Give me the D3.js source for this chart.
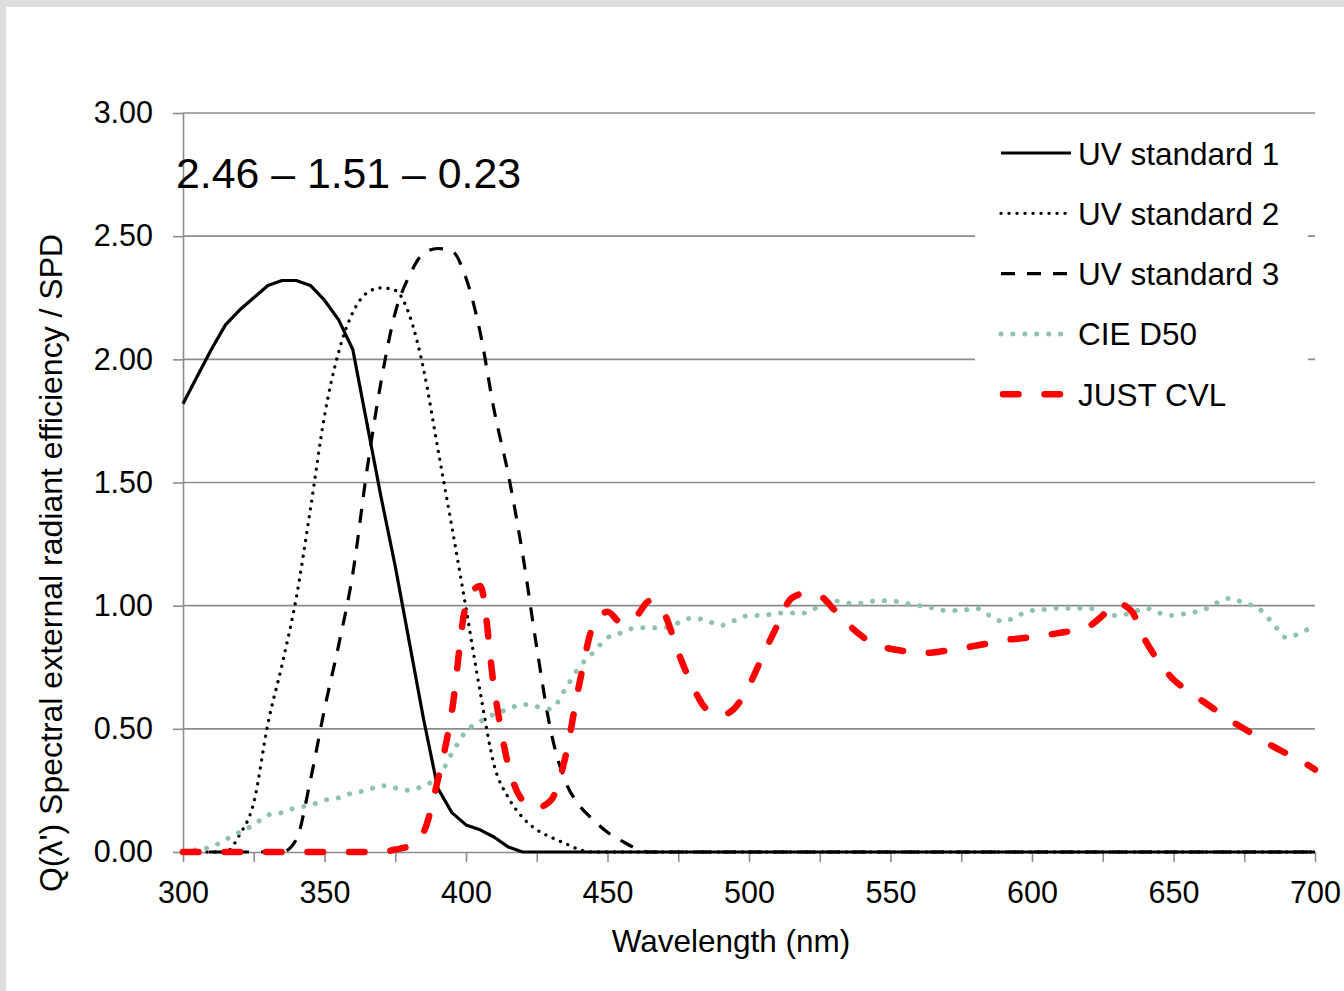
<!DOCTYPE html>
<html>
<head>
<meta charset="utf-8">
<script src="https://cdn.jsdelivr.net/npm/d3@7"></script>
<style>
  html, body { margin: 0; padding: 0; background: #fff; }
  svg { display: block; }
  text { font-family: "Liberation Sans", Arial, sans-serif; fill: #000; }
</style>
</head>
<body>
<div id="chart"></div>
<script>
// wavelength grid, nm (5 nm steps)
const wavelengths = d3.range(300, 701, 5);

const uvStandard1 = [
  1.82, 1.93, 2.04, 2.14, 2.20, 2.25, 2.30, 2.32, 2.32, 2.30,
  2.24, 2.16, 2.04, 1.74, 1.44, 1.16, 0.85, 0.54, 0.26, 0.16,
  0.11, 0.09, 0.06, 0.02, 0, 0, 0, 0, 0, 0,
  0, 0, 0, 0, 0, 0, 0, 0, 0, 0,
  0, 0, 0, 0, 0, 0, 0, 0, 0, 0,
  0, 0, 0, 0, 0, 0, 0, 0, 0, 0,
  0, 0, 0, 0, 0, 0, 0, 0, 0, 0,
  0, 0, 0, 0, 0, 0, 0, 0, 0, 0,
  0
];

const uvStandard2 = [
  0, 0, 0, 0, 0.07, 0.20, 0.52, 0.76, 1.03, 1.39,
  1.77, 2.03, 2.19, 2.27, 2.29, 2.28, 2.18, 1.96, 1.64, 1.32,
  0.99, 0.65, 0.35, 0.22, 0.14, 0.09, 0.06, 0.035, 0.01, 0,
  0, 0, 0, 0, 0, 0, 0, 0, 0, 0,
  0, 0, 0, 0, 0, 0, 0, 0, 0, 0,
  0, 0, 0, 0, 0, 0, 0, 0, 0, 0,
  0, 0, 0, 0, 0, 0, 0, 0, 0, 0,
  0, 0, 0, 0, 0, 0, 0, 0, 0, 0,
  0
];

const uvStandard3 = [
  0, 0, 0, 0, 0, 0, 0, 0, 0.05, 0.29,
  0.58, 0.84, 1.13, 1.55, 1.91, 2.19, 2.34, 2.43, 2.45, 2.44,
  2.33, 2.11, 1.79, 1.53, 1.21, 0.83, 0.49, 0.29, 0.19, 0.13,
  0.08, 0.045, 0.015, 0, 0, 0, 0, 0, 0, 0,
  0, 0, 0, 0, 0, 0, 0, 0, 0, 0,
  0, 0, 0, 0, 0, 0, 0, 0, 0, 0,
  0, 0, 0, 0, 0, 0, 0, 0, 0, 0,
  0, 0, 0, 0, 0, 0, 0, 0, 0, 0,
  0
];

const cieD50 = [
  0.00, 0.01, 0.02, 0.05, 0.08, 0.11, 0.15, 0.16, 0.18, 0.19,
  0.21, 0.22, 0.24, 0.25, 0.27, 0.26, 0.25, 0.27, 0.30, 0.40,
  0.49, 0.53, 0.56, 0.58, 0.60, 0.59, 0.58, 0.66, 0.75, 0.81,
  0.87, 0.89, 0.91, 0.91, 0.91, 0.93, 0.95, 0.94, 0.92, 0.94,
  0.96, 0.96, 0.97, 0.97, 0.97, 1.00, 1.02, 1.01, 1.01, 1.02,
  1.02, 1.01, 1.00, 0.99, 0.98, 0.98, 0.99, 0.96, 0.935, 0.96,
  0.98, 0.985, 0.99, 0.99, 0.99, 0.97, 0.96, 0.97, 0.99, 0.97,
  0.96, 0.97, 0.98, 1.01, 1.03, 1.01, 0.99, 0.93, 0.87, 0.89,
  0.92
];

const justCvl = [
  0, 0, 0, 0, 0, 0, 0, 0, 0, 0,
  0, 0, 0, 0, 0, 0.01, 0.025, 0.08, 0.29, 0.57,
  1.00, 1.08, 0.66, 0.35, 0.21, 0.18, 0.21, 0.38, 0.68, 0.92,
  0.975, 0.93, 0.955, 1.02, 0.97, 0.81, 0.675, 0.58, 0.555, 0.585,
  0.675, 0.80, 0.92, 1.03, 1.05, 1.04, 0.985, 0.925, 0.875, 0.84,
  0.825, 0.815, 0.807, 0.81, 0.818, 0.827, 0.837, 0.848, 0.86, 0.866,
  0.873, 0.88, 0.89, 0.90, 0.915, 0.96, 1.01, 0.98, 0.86, 0.77,
  0.70, 0.655, 0.615, 0.575, 0.535, 0.50, 0.465, 0.43, 0.40, 0.37,
  0.335
];

const seriesNames = ['UV standard 1', 'UV standard 2', 'UV standard 3', 'CIE D50', 'JUST CVL'];
const seriesValues = [uvStandard1, uvStandard2, uvStandard3, cieD50, justCvl];

const xTickValues = [300, 325, 350, 375, 400, 425, 450, 475, 500, 525, 550, 575, 600, 625, 650, 675, 700];
const xLabelValues = [300, 350, 400, 450, 500, 550, 600, 650, 700];
const yTickValues = [0, 0.5, 1, 1.5, 2, 2.5, 3];

const xTitle = 'Wavelength (nm)';
const yTitle = "Q(\u03bb')  Spectral external radiant efficiency / SPD";
const noteText = '2.46 \u2013 1.51 \u2013 0.23';

// ---- look ----
const width = 1344, height = 991;
const plot = { left: 183, right: 1315, top: 113, bottom: 852 };
const gridColor = '#8c8c8c';

const lineStyles = [
  { color: '#000', w: 3.2, dash: null, cap: 'butt', curve: d3.curveLinear },
  { color: '#000', w: 3.3, dash: '0.1 7.9', cap: 'round', curve: d3.curveMonotoneX },
  { color: '#000', w: 3.2, dash: '14 12', cap: 'butt', curve: d3.curveMonotoneX },
  { color: '#8fc4ab', w: 5, dash: '0.1 11.8', cap: 'round', curve: d3.curveMonotoneX },
  { color: '#ff0000', w: 6.5, dash: '15.5 26', cap: 'round', curve: d3.curveMonotoneX }
];

const svg = d3.select('#chart').append('svg')
  .attr('width', width)
  .attr('height', height);

// grey frame on top / left
svg.append('rect').attr('width', width).attr('height', height).attr('fill', '#dedede');
svg.append('rect').attr('x', 6).attr('y', 7).attr('width', width - 6).attr('height', height - 7).attr('fill', '#fff');

const x = d3.scaleLinear().domain([300, 700]).range([plot.left, plot.right]);
const y = d3.scaleLinear().domain([0, 3]).range([plot.bottom, plot.top]);

// gridlines
svg.append('g')
  .selectAll('line')
  .data(yTickValues.filter(d => d > 0))
  .join('line')
  .attr('x1', plot.left).attr('x2', plot.right)
  .attr('y1', d => y(d)).attr('y2', d => y(d))
  .attr('stroke', gridColor).attr('stroke-width', 1.6);

// y axis
const yAxis = svg.append('g')
  .attr('transform', 'translate(' + plot.left + ',0)')
  .call(d3.axisLeft(y).tickValues(yTickValues).tickFormat(d3.format('.2f'))
    .tickSize(10).tickSizeOuter(0).tickPadding(20));
yAxis.selectAll('path, line').attr('stroke', gridColor).attr('stroke-width', 1.6);
yAxis.selectAll('text').attr('font-size', 30.5).attr('font-family', '"Liberation Sans", Arial, sans-serif').attr('fill', '#000');

// x axis
const xAxis = svg.append('g')
  .attr('transform', 'translate(0,' + plot.bottom + ')')
  .call(d3.axisBottom(x).tickValues(xTickValues)
    .tickFormat(d => xLabelValues.includes(d) ? d : '')
    .tickSize(10).tickSizeOuter(0).tickPadding(19));
xAxis.selectAll('path, line').attr('stroke', gridColor).attr('stroke-width', 1.6);
xAxis.selectAll('text').attr('font-size', 30.5).attr('font-family', '"Liberation Sans", Arial, sans-serif').attr('fill', '#000');

// legend background hides the gridlines behind it
svg.append('rect')
  .attr('x', 975).attr('y', 128)
  .attr('width', 333).attr('height', 292)
  .attr('fill', '#fff');

// series
const line = d3.line()
  .x((d, i) => x(wavelengths[i]))
  .y(d => y(d));

seriesValues.forEach((vals, k) => {
  const s = lineStyles[k];
  svg.append('path')
    .datum(vals)
    .attr('fill', 'none')
    .attr('stroke', s.color)
    .attr('stroke-width', s.w)
    .attr('stroke-linecap', s.cap)
    .attr('stroke-linejoin', 'round')
    .attr('stroke-dasharray', s.dash)
    .attr('d', line.curve(s.curve));
});

// legend
const legend = svg.append('g');
seriesNames.forEach((name, k) => {
  const s = lineStyles[k];
  const ly = 153 + k * 60.3;
  legend.append('line')
    .attr('x1', k === 4 ? 1003 : 1001).attr('x2', 1071)
    .attr('y1', ly).attr('y2', ly)
    .attr('stroke', s.color)
    .attr('stroke-width', s.w)
    .attr('stroke-linecap', s.cap)
    .attr('stroke-dasharray', s.dash);
  legend.append('text')
    .attr('x', 1078).attr('y', ly + 11.5)
    .attr('font-size', 31.5)
    .text(name);
});

// note text in the plot
svg.append('text')
  .attr('x', 176).attr('y', 188)
  .attr('font-size', 42.8)
  .text(noteText);

// axis titles
svg.append('text')
  .attr('x', 731).attr('y', 952)
  .attr('text-anchor', 'middle')
  .attr('font-size', 31.5)
  .text(xTitle);

svg.append('text')
  .attr('transform', 'translate(62,563) rotate(-90)')
  .attr('text-anchor', 'middle')
  .attr('font-size', 32)
  .text(yTitle);
</script>
</body>
</html>
